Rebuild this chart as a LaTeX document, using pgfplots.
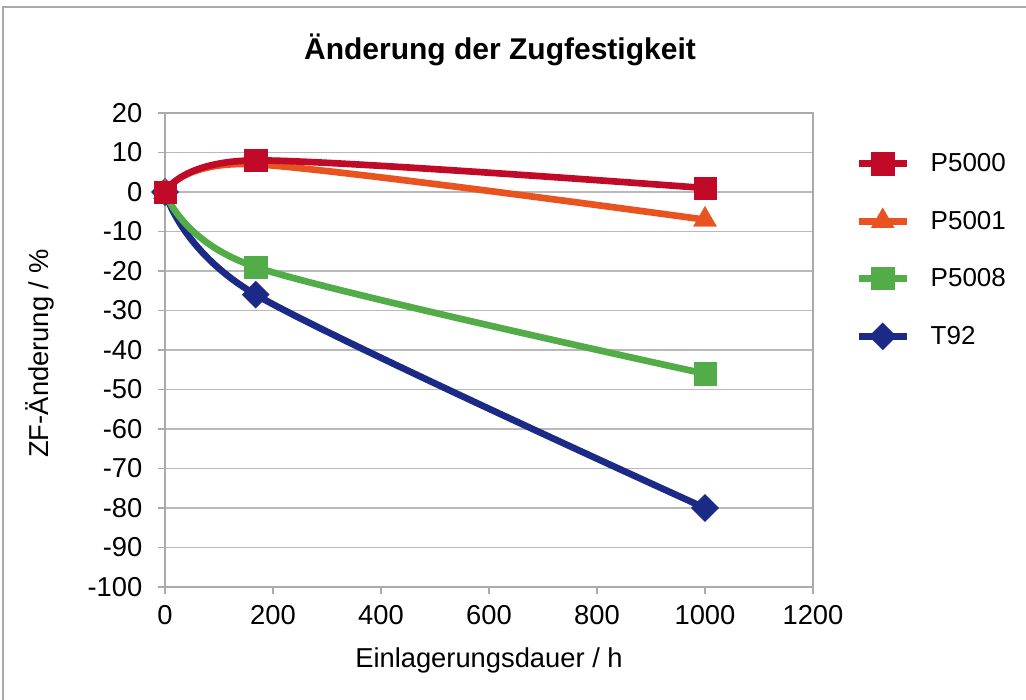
\documentclass[border=0pt]{standalone}
\usepackage{pgfplots}
\pgfplotsset{compat=1.18}
\usepackage{fontspec}
\setmainfont{Liberation Sans}

\definecolor{cP5000}{RGB}{192,10,39}
\definecolor{cP5001}{RGB}{233,83,31}
\definecolor{cP5008}{RGB}{82,172,72}
\definecolor{cT92}{RGB}{26,42,134}
\definecolor{frame}{RGB}{170,170,170}
\definecolor{gridc}{RGB}{185,185,185}

\begin{document}
\begin{tikzpicture}
\path[use as bounding box] (-123.75pt,-84.75pt) rectangle (645.75pt,440.25pt);
\fill[white] (-123.75pt,-84.75pt) rectangle (645.75pt,440.25pt);
\draw[frame, line width=1.1pt] (-121.5pt,-84.75pt) -- (-121.5pt,435pt) -- (645.75pt,435pt);

\begin{axis}[
  at={(0,0)}, anchor=south west,
  scale only axis,
  width=486pt, height=355.5pt,
  xmin=0, xmax=1200, ymin=-100, ymax=20,
  xtick={0,200,...,1200},
  ytick={-100,-90,...,20},
  tick pos=left, tick align=outside,
  major tick length=5pt,
  every tick/.style={frame, line width=1pt},
  axis line style={frame, line width=1.1pt},
  ymajorgrids,
  major grid style={gridc, line width=1.1pt},
  /pgf/number format/assume math mode=true,
  /pgf/number format/1000 sep={},
  ticklabel style={font=\fontsize{20.5}{24}\selectfont},
  xticklabel style={yshift=-5pt},
  yticklabel style={xshift=-8.5pt},
  legend style={at={(axis description cs:1.065,0.921)}, anchor=north west,
    draw=none, fill=none, font=\fontsize{19.5}{22}\selectfont,
    row sep=23.75pt, inner sep=0pt},
  legend cell align=left,
  reverse legend,
  legend image code/.code={\draw[mark repeat=2,mark phase=2]
     plot coordinates {(0pt,0pt) (18pt,0pt) (36pt,0pt)};
     \path (49.5pt,0pt);},
  every axis plot/.append style={line width=5pt, smooth},
  clip=false,
]
% drawn back to front: T92 first, P5000 last on top
\addplot[cT92, mark=square*, mark size=7.2pt,
  mark options={rotate=45, fill=cT92, draw=cT92, line width=0.2pt}]
  coordinates {(0,0) (168,-26) (1000,-80)};
\addlegendentry{T92}
\addplot[cP5008, mark=square*, mark size=8.4pt,
  mark options={fill=cP5008, draw=cP5008, line width=0.2pt}]
  coordinates {(0,0) (168,-19) (1000,-46)};
\addlegendentry{P5008}
\addplot[cP5001, mark=triangle*, mark size=10pt,
  mark options={fill=cP5001, draw=cP5001, line width=0.2pt}]
  coordinates {(0,0) (168,7) (1000,-7)};
\addlegendentry{P5001}
\addplot[cP5000, mark=square*, mark size=8.4pt,
  mark options={fill=cP5000, draw=cP5000, line width=0.2pt}]
  coordinates {(0,0) (168,8) (1000,1)};
\addlegendentry{P5000}
\end{axis}

\node[font=\bfseries\fontsize{22.5}{26}\selectfont] at (251.25pt,402.75pt) {Änderung der Zugfestigkeit};
\node[font=\fontsize{20.5}{24}\selectfont] at (243pt,-54.75pt) {Einlagerungsdauer / h};
\node[font=\fontsize{20.5}{24}\selectfont, rotate=90] at (-93.75pt,175pt) {ZF-Änderung / \%};
\end{tikzpicture}
\end{document}
